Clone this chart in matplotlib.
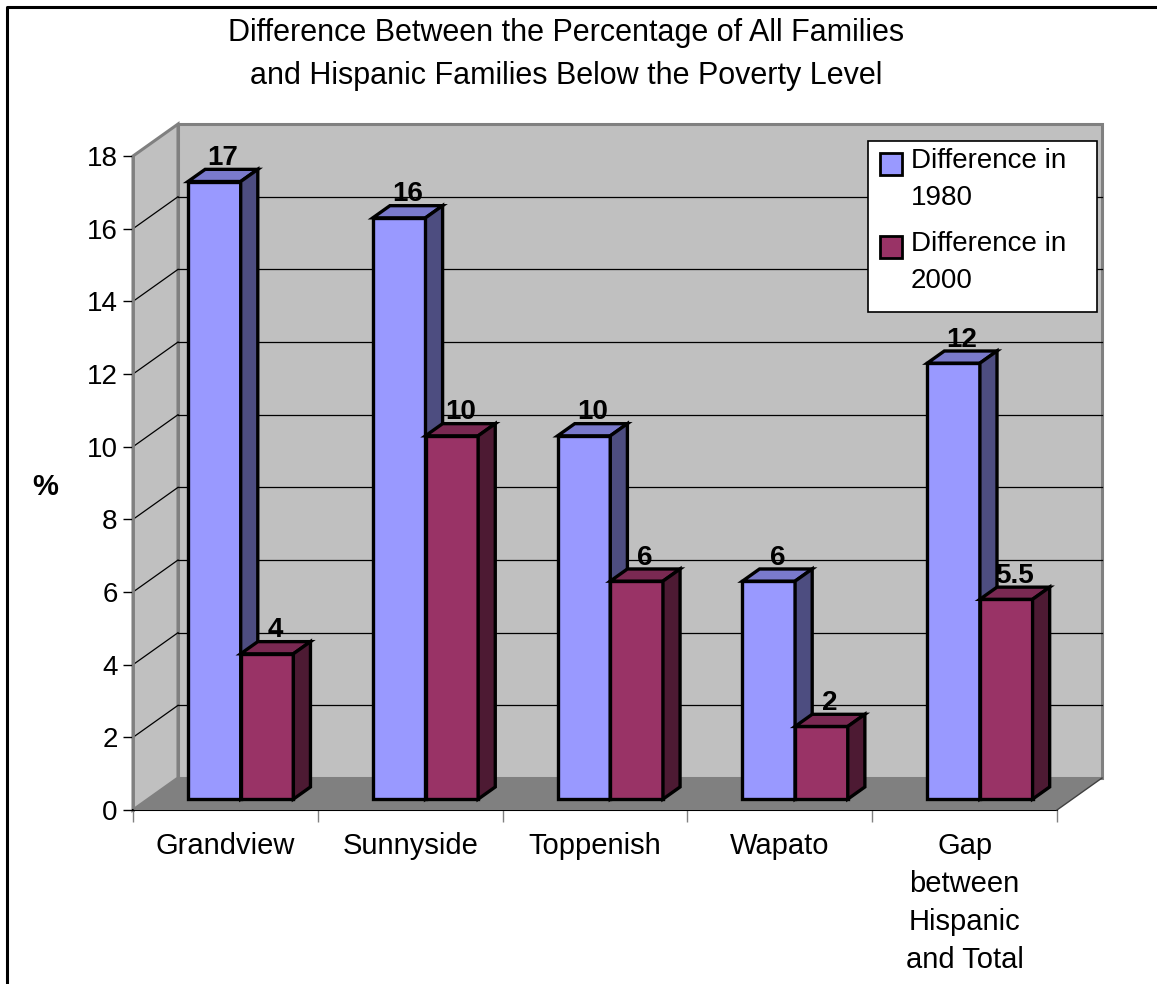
import matplotlib
matplotlib.use('Agg')
import matplotlib.pyplot as plt
from matplotlib.patches import Polygon, Rectangle

plt.rcParams['font.family'] = ['Liberation Sans', 'DejaVu Sans']

# data
categories = ['Grandview', 'Sunnyside', 'Toppenish', 'Wapato',
              'Gap\nbetween\nHispanic\nand Total']
diff_1980 = [17, 16, 10, 6, 12]
diff_2000 = [4, 10, 6, 2, 5.5]
series_names = ['Difference in\n1980', 'Difference in\n2000']
y_ticks = list(range(0, 19, 2))

# face colours: front, top, side
colors_1980 = ('#9999FF', '#7A7ACC', '#4D4D80')
colors_2000 = ('#993366', '#7A2952', '#4D1A33')

W, H = 1157, 984
fig = plt.figure(figsize=(W / 100, H / 100), dpi=100)
ax = fig.add_axes([0, 0, 1, 1])
ax.patch.set_visible(False)

# front plane: x=0 at px 133, one category = 184.8 px; y=0 at px 810, 36.33 px per unit
X0, CAT_W = 133, 184.8
Y0, UNIT = 810, 36.33
ax.set_xlim(-X0 / CAT_W, (W - X0) / CAT_W)
ax.set_ylim(-(H - Y0) / UNIT, Y0 / UNIT)

DX, DY = 45 / CAT_W, 32 / UNIT   # depth offset of back wall
YMAX = y_ticks[-1]
NCAT = len(categories)


def off(x, y, z):
    return (x + z * DX, y + z * DY)


# walls
wall_kw = dict(fc='#C0C0C0', ec='#808080', lw=2.2, zorder=1, joinstyle='miter')
ax.add_patch(Polygon([(0, 0), (0, YMAX), off(0, YMAX, 1), off(0, 0, 1)], **wall_kw))
ax.add_patch(Polygon([off(0, 0, 1), off(NCAT, 0, 1), off(NCAT, YMAX, 1), off(0, YMAX, 1)], **wall_kw))

# gridlines
for v in y_ticks[1:-1]:
    ax.plot([0, DX], [v, v + DY], color='black', lw=0.9, zorder=2)
    ax.plot([DX, NCAT + DX], [v + DY, v + DY], color='black', lw=0.9, zorder=2)

# floor
ax.add_patch(Polygon([(0, 0), (NCAT, 0), off(NCAT, 0, 1), off(0, 0, 1)],
                     fc='#808080', ec='none', zorder=3))
ax.plot([NCAT, NCAT + DX], [0, DY], color='#404040', lw=1, zorder=3)

# bars
BW = 0.285
Z0, Z1 = 0.34, 0.72
edge = dict(ec='black', lw=2.4, joinstyle='miter')
z = 4
for i in range(NCAT):
    for j, (vals, cols) in enumerate([(diff_1980, colors_1980), (diff_2000, colors_2000)]):
        v = vals[i]
        xl, yb = off(i + 0.5 - BW + j * BW, 0, Z0)
        xr = xl + BW
        yt = yb + v
        ddx, ddy = (Z1 - Z0) * DX, (Z1 - Z0) * DY
        ax.add_patch(Polygon([(xl, yb), (xr, yb), (xr, yt), (xl, yt)], fc=cols[0], zorder=z, **edge))
        ax.add_patch(Polygon([(xl, yt), (xr, yt), (xr + ddx, yt + ddy), (xl + ddx, yt + ddy)],
                             fc=cols[1], zorder=z, **edge))
        ax.add_patch(Polygon([(xr, yb), (xr + ddx, yb + ddy), (xr + ddx, yt + ddy), (xr, yt)],
                             fc=cols[2], zorder=z, **edge))
        ax.text(xl + BW / 2 + ddx / 2, yt + ddy - 0.05, f'{v:g}', ha='center', va='bottom',
                fontsize=20, fontweight='bold', zorder=z + 1)
        z += 2

# axes
for s in ['top', 'right']:
    ax.spines[s].set_visible(False)
ax.spines['left'].set_position(('data', 0))
ax.spines['left'].set_bounds(0, YMAX)
ax.spines['left'].set_color('#808080')
ax.spines['left'].set_linewidth(2)
ax.spines['left'].set_zorder(2)
ax.spines['bottom'].set_position(('data', 0))
ax.spines['bottom'].set_bounds(0, NCAT)
ax.spines['bottom'].set_color('black')
ax.spines['bottom'].set_linewidth(1.5)

ax.set_yticks(y_ticks)
ax.set_yticklabels([str(t) for t in y_ticks])
ax.tick_params(axis='y', direction='out', length=7, width=1, color='black',
               labelsize=20, pad=4)
ax.set_xticks(range(NCAT + 1))
ax.set_xticklabels([''] * (NCAT + 1))
ax.set_xticks([i + 0.5 for i in range(NCAT)], minor=True)
ax.set_xticklabels(categories, minor=True, fontsize=21, linespacing=1.45)
ax.tick_params(axis='x', which='major', direction='out', length=8.6, width=1, color='#808080')
ax.tick_params(axis='x', which='minor', length=0, pad=16)
for lbl in ax.get_xticklabels(minor=True):
    lbl.set_verticalalignment('top')

# overlay in pixel coords for title, legend and frame
ov = fig.add_axes([0, 0, 1, 1], zorder=10)
ov.set_xlim(0, W)
ov.set_ylim(H, 0)
ov.axis('off')

ov.text(566, 33, 'Difference Between the Percentage of All Families', ha='center', va='center', fontsize=22)
ov.text(566, 76, 'and Hispanic Families Below the Poverty Level', ha='center', va='center', fontsize=22)
ov.text(45, 487, '%', ha='center', va='center', fontsize=21, fontweight='bold')

# legend
ov.add_patch(Rectangle((868, 141), 229, 171, fc='white', ec='black', lw=1.2))
for k, (name, cols) in enumerate([(series_names[0], colors_1980), (series_names[1], colors_2000)]):
    y = 153 + k * 83
    ov.add_patch(Rectangle((880, y), 22, 22, fc=cols[0], ec='black', lw=2))
    first, second = name.split('\n')
    ov.text(911, y + 8, first, ha='left', va='center', fontsize=20)
    ov.text(911, y + 45, second, ha='left', va='center', fontsize=20)

# frame (left and top only, as in the reference crop)
ov.plot([7, 7, W + 5], [H + 5, 7, 7], color='black', lw=2.2)

fig.savefig('out.png', dpi=100)
